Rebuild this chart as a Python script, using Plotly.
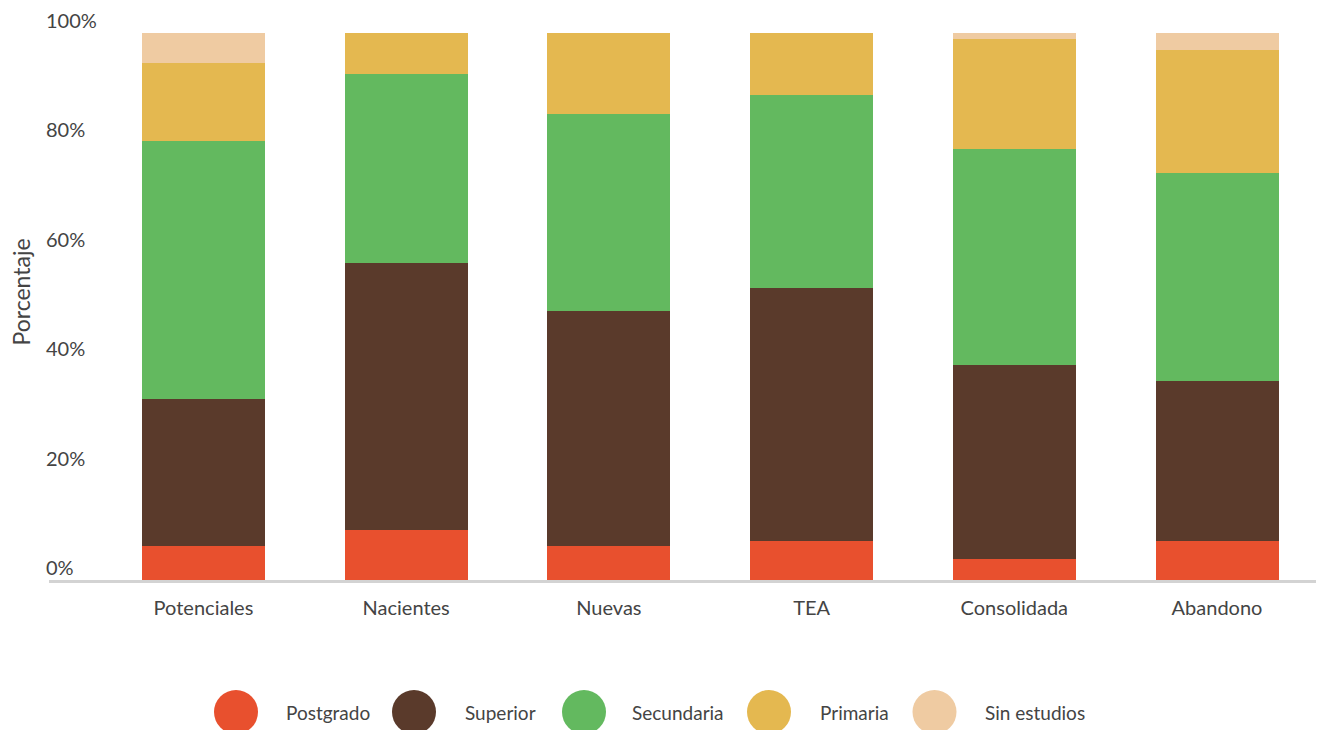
import plotly.graph_objects as go

categories = ["Potenciales", "Nacientes", "Nuevas", "TEA", "Consolidada", "Abandono"]

postgrado = [6.2, 9.1, 6.2, 7.1, 3.8, 7.1]
superior = [26.9, 48.9, 43.0, 46.3, 35.5, 29.3]
secundaria = [47.2, 34.5, 36.0, 35.3, 39.5, 38.0]
primaria = [14.2, 7.5, 14.8, 11.3, 20.1, 22.5]
sin_estudios = [5.5, 0.0, 0.0, 0.0, 1.1, 3.1]

series_names = ["Postgrado", "Superior", "Secundaria", "Primaria", "Sin estudios"]
series_values = [postgrado, superior, secundaria, primaria, sin_estudios]
colors = ["#E8502E", "#5A3A2B", "#63B95F", "#E4B850", "#EFCBA2"]

y_ticks = [0, 20, 40, 60, 80, 100]

FONT = "Lato"
TXT = "#444444"

# page has an 8px body margin; figure sized to fit window
OFF = 8
W, H = 1316, 722
L, R, T, B = 41, 5, 0, 150
PW, PH = W - L - R, H - T - B
PX_PER_UNIT = 5.47
Y_TOP = PH / PX_PER_UNIT

fig = go.Figure()
for name, vals, col in zip(series_names, series_values, colors):
    fig.add_trace(go.Bar(
        x=categories, y=vals, name=name,
        marker=dict(color=col, line=dict(width=0)),
        showlegend=False,
    ))


def page_to_paper_x(px):
    return (px - OFF - L) / PW


def page_to_paper_y(py):
    return (H - B - (py - OFF)) / PH


legend_circle_x = [236, 414, 584, 769, 934.5]
legend_text_x = [284, 463, 630, 818, 983]
legend_y = 712

shapes = []
annotations = []
for name, col, cx, tx in zip(series_names, colors, legend_circle_x, legend_text_x):
    shapes.append(dict(
        type="circle", xref="paper", yref="paper",
        xsizemode="pixel", ysizemode="pixel",
        xanchor=page_to_paper_x(cx), yanchor=page_to_paper_y(legend_y),
        x0=-22, x1=22, y0=-22, y1=22,
        fillcolor=col, line=dict(width=0),
    ))
    annotations.append(dict(
        text=name, xref="paper", yref="paper",
        x=page_to_paper_x(tx), y=page_to_paper_y(legend_y),
        xanchor="left", yanchor="middle", showarrow=False,
        font=dict(family=FONT, size=19, color=TXT),
    ))

# y-axis title
annotations.append(dict(
    text="Porcentaje", xref="paper", yref="paper",
    x=page_to_paper_x(20), y=page_to_paper_y(292.5),
    xanchor="center", yanchor="middle", showarrow=False, textangle=-90,
    font=dict(family=FONT, size=23, color=TXT),
))

fig.update_layout(
    barmode="stack",
    bargap=0.393,
    width=W, height=H,
    margin=dict(l=L, r=R, t=T, b=B, autoexpand=False),
    paper_bgcolor="white",
    plot_bgcolor="white",
    font=dict(family=FONT, size=20, color=TXT),
    shapes=shapes,
    annotations=annotations,
    xaxis=dict(
        range=[-0.762, 5.503],
        showgrid=False, zeroline=False,
        showline=True, linecolor="#D3D3D3", linewidth=3,
        ticks="", ticklabelstandoff=8,
        tickfont=dict(family=FONT, size=20, color=TXT),
        fixedrange=True,
    ),
    yaxis=dict(
        anchor="free", position=0, side="right",
        range=[0, Y_TOP],
        tickvals=y_ticks,
        ticktext=[f"{v}%" for v in y_ticks],
        ticklabelposition="outside",
        ticklabelshift=-12,
        ticklabelstandoff=-4,
        showgrid=False, zeroline=False, showline=False,
        ticks="",
        tickfont=dict(family=FONT, size=20, color=TXT),
        automargin=False,
        fixedrange=True,
    ),
)

fig.write_html("out.html")
